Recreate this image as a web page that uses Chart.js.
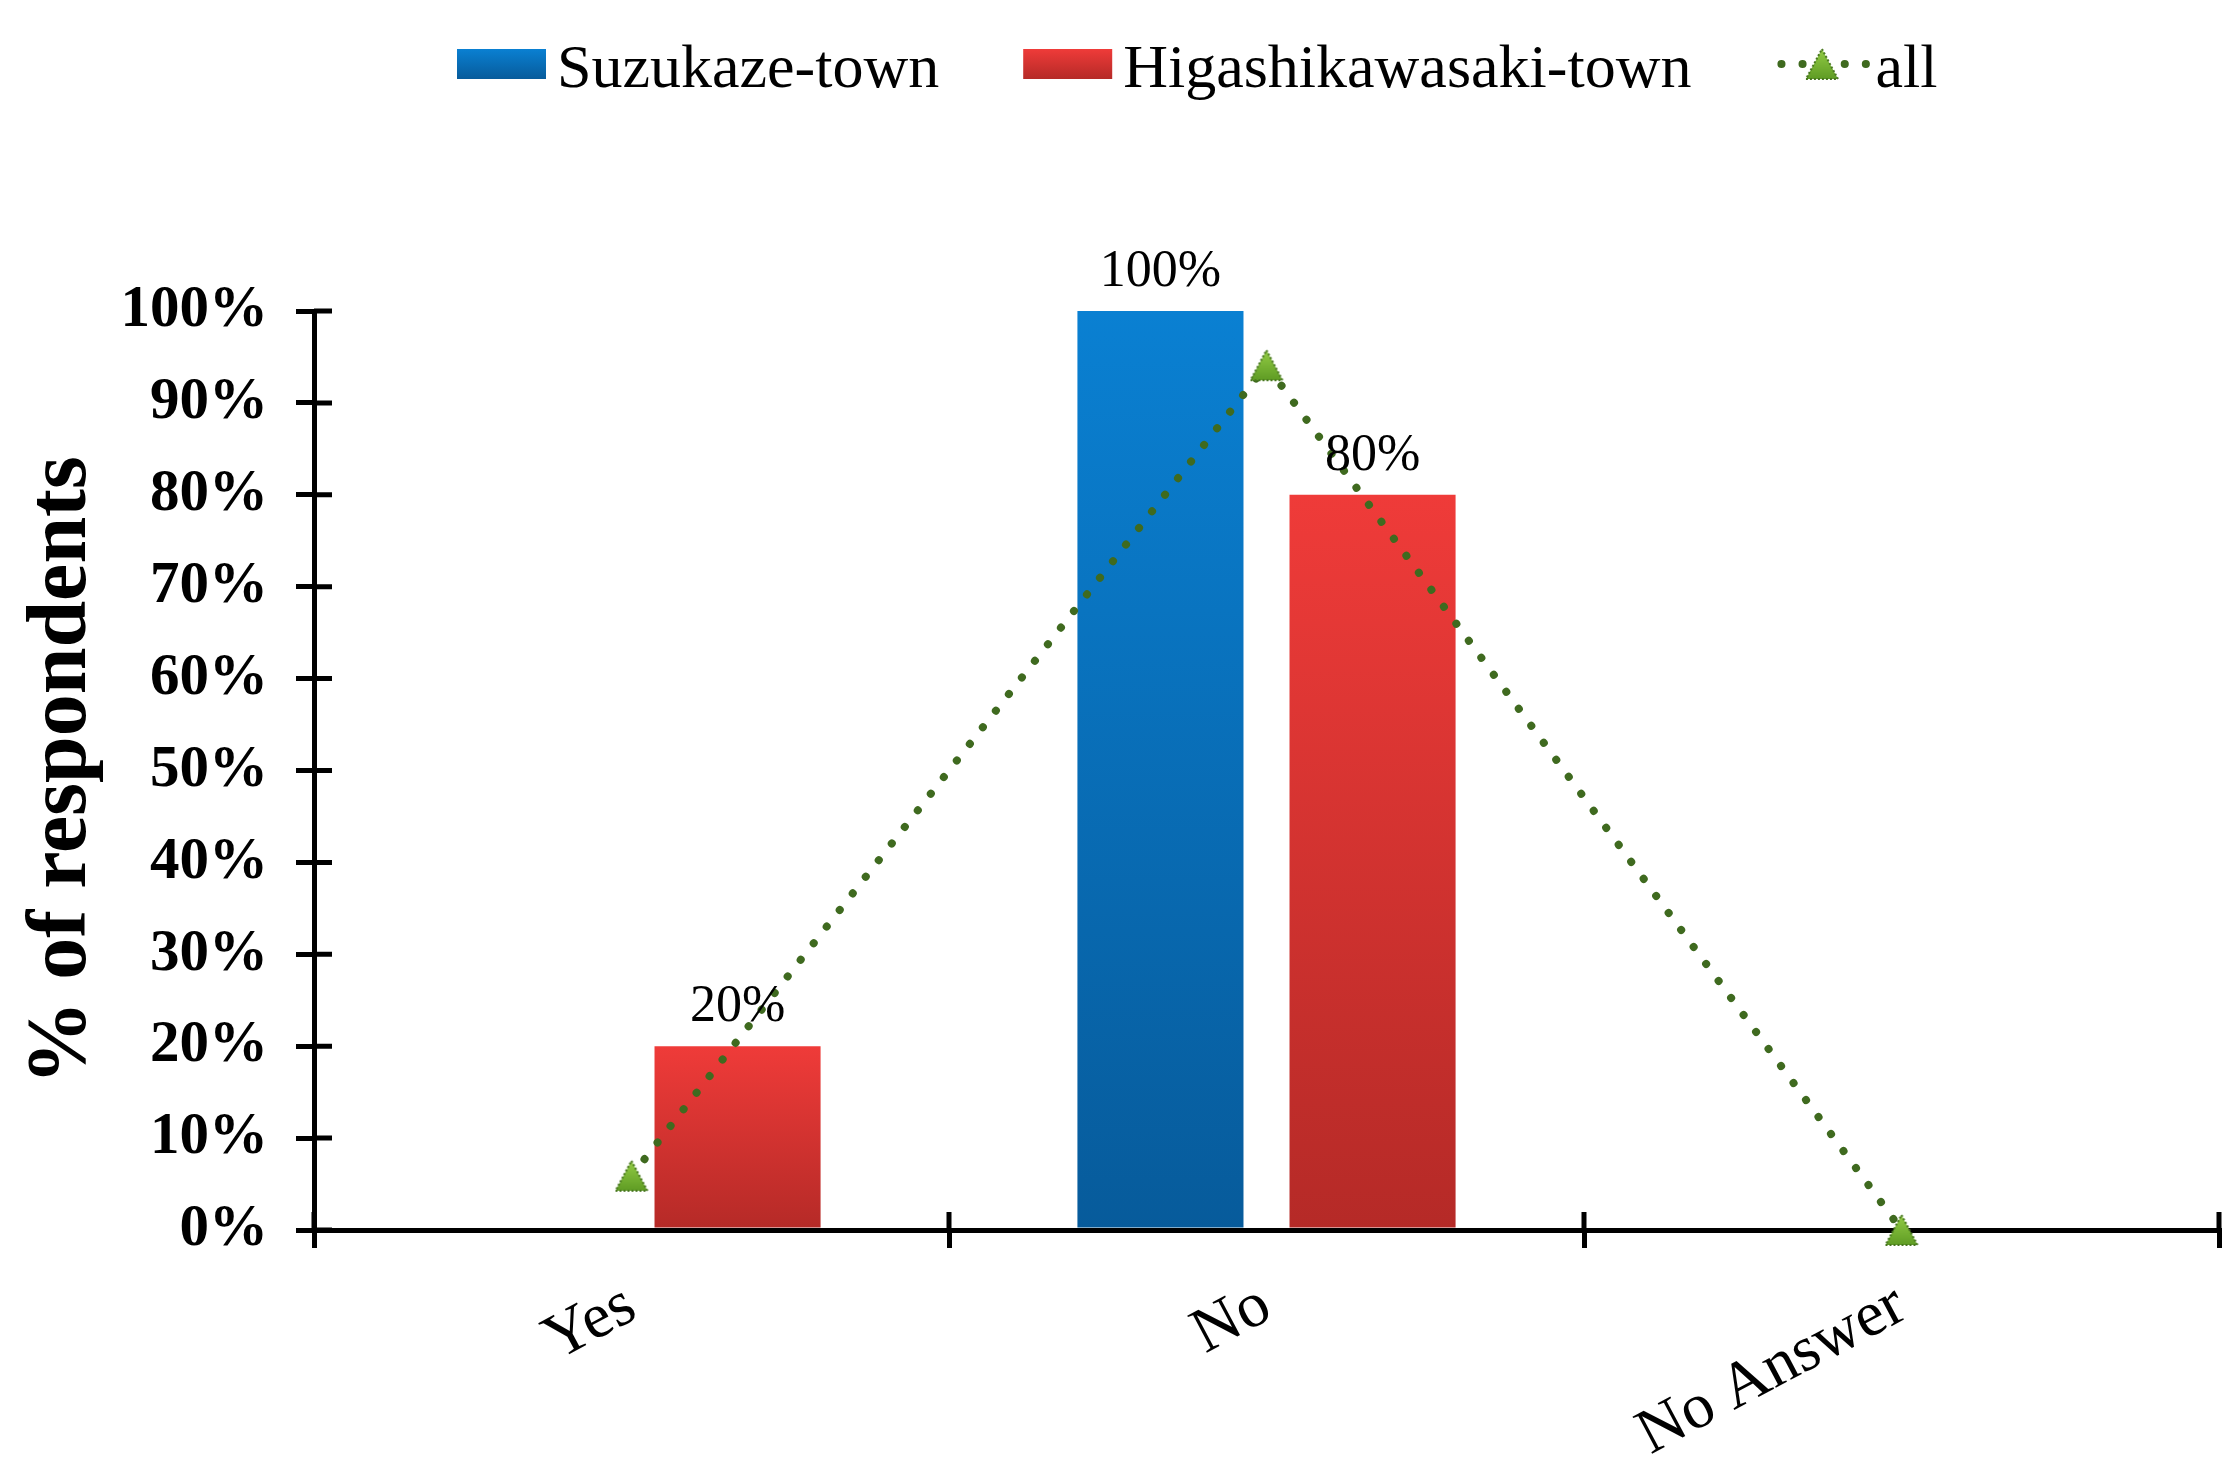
<!DOCTYPE html>
<html>
<head>
<meta charset="utf-8">
<title>% of respondents</title>
<script src="https://cdn.jsdelivr.net/npm/chart.js@4/dist/chart.umd.min.js"></script>
<style>
    html, body { margin: 0; padding: 0; background: #ffffff; }
    canvas { display: block; }
</style>
</head>
<body>
<canvas id="surveyChart" width="2240" height="1462"></canvas>
<script>
// Chart data.
var categories = ["Yes", "No", "No Answer"];
var suzukazeValues = [0, 100, 0];
var higashikawasakiValues = [20, 80, 0];
var allValues = [5.9, 94.1, 0];
var seriesNames = ["Suzukaze-town", "Higashikawasaki-town", "all"];
var yTicks = [0, 10, 20, 30, 40, 50, 60, 70, 80, 90, 100];

var SERIF = "'Liberation Serif', 'Times New Roman', serif";
var BLUE_TOP = "#0a80d2";
var BLUE_BOTTOM = "#075b9b";
var RED_TOP = "#ef3b39";
var RED_BOTTOM = "#b52a27";
var LINE_GREEN = "#3f6a1f";

document.addEventListener("DOMContentLoaded", function () {
    renderSurveyChart();
});

/**
 * Builds the green triangle marker used for the "all" series.
 * The triangle is centred in its box, as Excel does.
 *
 * @returns {HTMLCanvasElement}
 */
function makeTriangleMarker() {
    var c = document.createElement("canvas");
    c.width = 36;
    c.height = 34;
    var m = c.getContext("2d");
    var g = m.createLinearGradient(0, 2, 0, 32);
    g.addColorStop(0, "#93cc45");
    g.addColorStop(1, "#5f9c24");
    m.fillStyle = g;
    m.beginPath();
    m.moveTo(18, 2);
    m.lineTo(34, 32);
    m.lineTo(2, 32);
    m.closePath();
    m.fill();
    m.strokeStyle = "#47761f";
    m.lineWidth = 2;
    m.setLineDash([2, 2]);
    m.stroke();
    return c;
}

var triangleMarker = makeTriangleMarker();

/**
 * Returns a scriptable colour that fills each bar with its own vertical gradient.
 */
function barGradient(topColor, bottomColor) {
    return function (context) {
        var chart = context.chart;
        if (!chart.chartArea || context.type !== "data") {
            return topColor;
        }
        var yScale = chart.scales.y;
        var top = yScale.getPixelForValue(context.raw);
        var base = yScale.getPixelForValue(0);
        if (base - top < 1) {
            return topColor;
        }
        var gradient = chart.ctx.createLinearGradient(0, top, 0, base);
        gradient.addColorStop(0, topColor);
        gradient.addColorStop(1, bottomColor);
        return gradient;
    };
}

// Axis ticks cross the axis line, so draw the inner half too.
var crossTicksPlugin = {
    id: "crossTicks",
    beforeDatasetsDraw: function (chart) {
        var ctx = chart.ctx;
        var area = chart.chartArea;
        var xScale = chart.scales.x;
        var yScale = chart.scales.y;
        ctx.save();
        ctx.strokeStyle = "#000000";
        ctx.lineWidth = 5;
        ctx.beginPath();
        yScale.ticks.forEach(function (tick) {
            var y = yScale.getPixelForValue(tick.value);
            ctx.moveTo(area.left, y);
            ctx.lineTo(area.left + 18, y);
        });
        for (var i = 0; i <= categories.length; i++) {
            var x = xScale.getPixelForValue(i - 0.5);
            ctx.moveTo(x, area.bottom);
            ctx.lineTo(x, area.bottom - 18);
        }
        ctx.stroke();
        ctx.restore();
    }
};

// Value labels above the bars.
var barLabelsPlugin = {
    id: "barLabels",
    afterDatasetsDraw: function (chart) {
        var ctx = chart.ctx;
        ctx.save();
        ctx.font = "52px " + SERIF;
        ctx.fillStyle = "#000000";
        ctx.textAlign = "center";
        ctx.textBaseline = "alphabetic";
        chart.data.datasets.forEach(function (dataset, i) {
            if (dataset.type === "line") {
                return;
            }
            var meta = chart.getDatasetMeta(i);
            meta.data.forEach(function (bar, index) {
                var value = dataset.data[index];
                if (!value) {
                    return;
                }
                ctx.fillText(value + "%", bar.x, bar.y - 25);
            });
        });
        ctx.restore();
    }
};

// Legend drawn in one row at the top, Excel style.
var topLegendPlugin = {
    id: "topLegend",
    afterDraw: function (chart) {
        var ctx = chart.ctx;
        var x = 457;
        var boxTop = 49;
        var boxW = 89;
        var boxH = 30;
        var baseline = 87;
        ctx.save();
        ctx.font = "62px " + SERIF;
        ctx.textBaseline = "alphabetic";
        seriesNames.forEach(function (name, i) {
            if (i < 2) {
                var g = ctx.createLinearGradient(0, boxTop, 0, boxTop + boxH);
                g.addColorStop(0, i === 0 ? BLUE_TOP : RED_TOP);
                g.addColorStop(1, i === 0 ? BLUE_BOTTOM : RED_BOTTOM);
                ctx.fillStyle = g;
                ctx.fillRect(x, boxTop, boxW, boxH);
            } else {
                var cy = boxTop + boxH / 2;
                ctx.strokeStyle = LINE_GREEN;
                ctx.lineWidth = 8;
                ctx.lineCap = "round";
                ctx.setLineDash([0.1, 21]);
                ctx.beginPath();
                ctx.moveTo(x + 6, cy);
                ctx.lineTo(x + boxW + 2, cy);
                ctx.stroke();
                ctx.setLineDash([]);
                ctx.drawImage(triangleMarker, x + boxW / 2 - 16, cy - 17);
            }
            ctx.fillStyle = "#000000";
            var textX = x + boxW + 11;
            ctx.fillText(name, textX, baseline);
            x = textX + ctx.measureText(name).width + 84;
        });
        ctx.restore();
    }
};

/**
 * Renders the grouped bar chart with the overall line on top.
 */
function renderSurveyChart() {
    var canvas = document.getElementById("surveyChart");
    var ctx = canvas.getContext("2d");

    new Chart(ctx, {
        type: "bar",
        data: {
            labels: categories,
            datasets: [{
                    label: seriesNames[0],
                    data: suzukazeValues,
                    backgroundColor: barGradient(BLUE_TOP, BLUE_BOTTOM),
                    categoryPercentage: 0.668,
                    barPercentage: 0.783,
                    order: 2
                }, {
                    label: seriesNames[1],
                    data: higashikawasakiValues,
                    backgroundColor: barGradient(RED_TOP, RED_BOTTOM),
                    categoryPercentage: 0.668,
                    barPercentage: 0.783,
                    order: 2
                }, {
                    type: "line",
                    label: seriesNames[2],
                    data: allValues,
                    borderColor: LINE_GREEN,
                    borderWidth: 8,
                    borderDash: [0.1, 21],
                    borderCapStyle: "round",
                    pointStyle: triangleMarker,
                    pointRadius: 18,
                    tension: 0,
                    clip: false,
                    order: 0
                }]
        },
        options: {
            responsive: false,
            devicePixelRatio: 1,
            animation: false,
            layout: {
                autoPadding: false,
                padding: {top: 311, right: 21, bottom: 0, left: 0}
            },
            scales: {
                x: {
                    grid: {
                        offset: true,
                        drawOnChartArea: false,
                        drawTicks: true,
                        tickLength: 18,
                        color: "#000000",
                        lineWidth: 5
                    },
                    border: {display: true, color: "#000000", width: 5},
                    ticks: {
                        color: "#000000",
                        font: {family: SERIF, size: 64},
                        minRotation: 28,
                        maxRotation: 28,
                        padding: 20
                    },
                    afterFit: function (scale) {
                        scale.height = 232;
                    }
                },
                y: {
                    min: 0,
                    max: 100,
                    afterBuildTicks: function (scale) {
                        scale.ticks = yTicks.map(function (v) {
                            return {value: v};
                        });
                    },
                    grid: {
                        drawOnChartArea: false,
                        drawTicks: true,
                        tickLength: 18,
                        color: "#000000",
                        lineWidth: 5
                    },
                    border: {display: true, color: "#000000", width: 5},
                    ticks: {
                        color: "#000000",
                        font: {family: SERIF, size: 59, weight: "bold"},
                        padding: 28,
                        callback: function (value) {
                            return value + "%";
                        }
                    },
                    title: {
                        display: true,
                        text: "% of respondents",
                        color: "#000000",
                        font: {family: SERIF, size: 84, weight: "bold"},
                        padding: {top: 13, bottom: 0}
                    },
                    afterFit: function (scale) {
                        scale.width = 314;
                    }
                }
            },
            plugins: {
                legend: {display: false},
                tooltip: {enabled: false}
            }
        },
        plugins: [crossTicksPlugin, barLabelsPlugin, topLegendPlugin]
    });
}
</script>
</body>
</html>
